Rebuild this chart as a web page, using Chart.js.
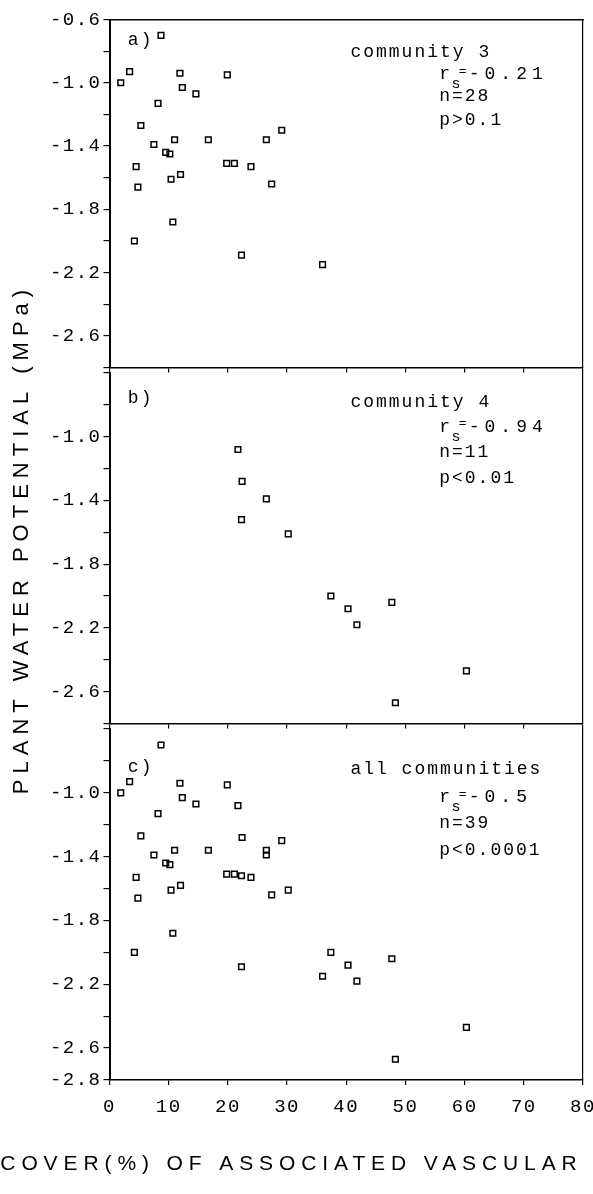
<!DOCTYPE html>
<html><head><meta charset="utf-8">
<script src="https://cdn.jsdelivr.net/npm/chart.js@4.4.1/dist/chart.umd.min.js"></script>
<style>
html,body{margin:0;padding:0;background:#fff;}
#wrap{position:relative;width:593px;height:1194px;overflow:hidden;background:#fff;}
canvas{position:absolute;left:0;top:0;}
</style></head><body>
<div id="wrap">
<canvas id="ca" width="593" height="1194"></canvas>
<canvas id="cb" width="593" height="1194"></canvas>
<canvas id="cc" width="593" height="1194"></canvas>
</div>
<script>
// ---- data (community 3) ----
const aX = [1.9, 3.4, 8.7, 8.2, 5.3, 7.5, 4.5, 4.8, 4.2, 9.5, 10.2, 11.0, 10.4, 12.0, 10.7, 11.9, 12.3, 14.6, 16.7, 19.9, 19.8, 21.1, 23.9, 22.3, 26.5, 29.1, 27.4, 36.0];
const aY = [-1.00, -0.93, -0.70, -1.13, -1.27, -1.39, -1.53, -1.66, -2.00, -1.44, -1.45, -1.36, -1.61, -1.58, -1.88, -0.94, -1.03, -1.07, -1.36, -0.95, -1.51, -1.51, -1.53, -2.09, -1.36, -1.30, -1.64, -2.15];
// ---- data (community 4) ----
const bX = [21.7, 22.4, 22.3, 26.5, 30.2, 37.4, 40.3, 41.8, 47.7, 60.3, 48.3];
const bY = [-1.08, -1.28, -1.52, -1.39, -1.61, -2.00, -2.08, -2.18, -2.04, -2.47, -2.67];
// ---- all communities ----
const allX = aX.concat(bX);
const allY = aY.concat(bY);

// ---- tick labels ----
const xTickLabels = ['0','10','20','30','40','50','60','70','80'];
const yLabelsA = ['-0.6','-1.0','-1.4','-1.8','-2.2','-2.6'];
const yLabelsB = ['-1.0','-1.4','-1.8','-2.2','-2.6'];
const yLabelsC = ['-1.0','-1.4','-1.8','-2.2','-2.6','-2.8'];

// ---- texts ----
const yTitle = 'PLANT WATER POTENTIAL (MPa)';
const xTitle = 'COVER(%) OF ASSOCIATED VASCULAR';
const panelTags = ['a)', 'b)', 'c)'];
const groupNames = ['community 3', 'community 4', 'all communities'];
const rsValues = ['-0.21', '-0.94', '-0.5'];
const nValues = ['n=28', 'n=11', 'n=39'];
const pValues = ['p>0.1', 'p<0.01', 'p<0.0001'];

Chart.defaults.color = '#000';
Chart.defaults.font.family = '"Liberation Mono", monospace';

const MONO = '"Liberation Mono", monospace';
const SANS = '"Liberation Sans", Arial, sans-serif';

function spacingPlugin(titleSp, tickSp) {
  return {
    id: 'spacing',
    beforeDraw(chart) { chart.ctx.letterSpacing = titleSp + 'px'; },
    beforeDatasetsDraw(chart) { chart.ctx.letterSpacing = tickSp + 'px'; }
  };
}

function notesPlugin(items) {
  return {
    id: 'notes',
    afterDraw(chart) {
      const ctx = chart.ctx, xs = chart.scales.x, ys = chart.scales.y;
      items.forEach(it => {
        ctx.save();
        ctx.letterSpacing = (it.sp === undefined ? 2 : it.sp) + 'px';
        ctx.font = (it.size || 18) + 'px ' + MONO;
        ctx.fillStyle = '#000';
        ctx.textAlign = 'left';
        ctx.textBaseline = 'alphabetic';
        ctx.fillText(it.text, xs.getPixelForValue(it.x), ys.getPixelForValue(it.y));
        ctx.restore();
      });
    }
  };
}

function notesFor(i, ys) {
  // ys: [tag, name, r, s, eq, n, p]
  return [
    {text: panelTags[i], x: 3.1, y: ys[0]},
    {text: groupNames[i], x: 40.7, y: ys[1]},
    {text: 'r', x: 55.7, y: ys[2]},
    {text: 's', x: 57.8, y: ys[3], size: 15},
    {text: '=', x: 59.0, y: ys[4], size: 13, sp: 0},
    {text: rsValues[i], x: 60.7, y: ys[2], sp: 5},
    {text: nValues[i], x: 55.7, y: ys[5]},
    {text: pValues[i], x: 55.7, y: ys[6]}
  ];
}

function yCallback(labels) {
  return (v) => { const s = Number(v).toFixed(1); return labels.includes(s) ? s : ''; };
}

function pts(xs, ys) { return xs.map((x, i) => ({x: x, y: ys[i]})); }

function dataset(xs, ys) {
  return {
    data: pts(xs, ys),
    pointStyle: 'rect',
    pointRadius: 4,
    pointHoverRadius: 4,
    pointBorderWidth: 1.5,
    pointBorderColor: '#000',
    pointBackgroundColor: 'rgba(0,0,0,0)',
    showLine: false
  };
}

function makeScales(opts) {
  const s = {
    x: {
      type: 'linear', position: 'bottom', min: 0, max: 80,
      ticks: {
        stepSize: 10, display: opts.xLabels, z: 1, maxRotation: 0, autoSkip: false,
        padding: 11, color: '#000', font: {family: MONO, size: 19},
        callback: (v) => { const k = Math.round(v / 10); return xTickLabels[k] !== undefined ? xTickLabels[k] : ''; }
      },
      grid: {drawOnChartArea: false, drawTicks: true, tickLength: 5, color: '#000', lineWidth: 1.2},
      border: {display: true, color: '#000', width: 1.6},
      afterFit: (sc) => { sc.height = opts.xH; sc.paddingLeft = 0; sc.paddingRight = 0; }
    },
    y: {
      type: 'linear', position: 'left', min: -2.8, max: -0.6,
      ticks: {
        stepSize: 0.2, autoSkip: false, z: 1, padding: 2, color: '#000',
        font: {family: MONO, size: 19}, callback: yCallback(opts.yLabels)
      },
      grid: {drawOnChartArea: false, drawTicks: true, tickLength: 6, color: '#000', lineWidth: 1.2},
      border: {display: true, color: '#000', width: 2},
      afterFit: (sc) => { sc.width = opts.yW; sc.paddingTop = 0; sc.paddingBottom = 0; }
    },
    yr: {
      type: 'linear', position: 'right', axis: 'y', min: -2.8, max: -0.6,
      ticks: {display: false}, grid: {display: false},
      border: {display: true, color: '#000', width: 1.2},
      afterFit: (sc) => { sc.width = 0; sc.paddingTop = 0; sc.paddingBottom = 0; }
    }
  };
  if (opts.top) {
    s.xt = {
      type: 'linear', position: 'top', axis: 'x', min: 0, max: 80,
      ticks: {display: false}, grid: {display: false},
      border: {display: true, color: '#000', width: 1.5},
      afterFit: (sc) => { sc.height = 0; sc.paddingLeft = 0; sc.paddingRight = 0; }
    };
  }
  return s;
}

const common = {
  responsive: false,
  animation: false,
  events: [],
  plugins: {legend: {display: false}, tooltip: {enabled: false}}
};

// ---- panel a ----
new Chart(document.getElementById('ca'), {
  type: 'scatter',
  data: {datasets: [dataset(aX, aY)]},
  options: Object.assign({}, common, {
    layout: {padding: {top: 19.5, right: 10, bottom: 135.5, left: 0}},
    scales: makeScales({xLabels: false, xH: 691, yW: 109.5 - 35.4, yLabels: yLabelsA, top: true}),
    plugins: {
      legend: {display: false}, tooltip: {enabled: false},
      title: {
        display: true, position: 'left', fullSize: true, align: 'center',
        text: yTitle, color: '#000',
        font: {family: SANS, size: 22, weight: 'normal', lineHeight: 1.2},
        padding: {top: 9, bottom: 0}
      }
    }
  }),
  plugins: [spacingPlugin(6, 1.5), notesPlugin(notesFor(0, [-0.76, -0.834, -0.976, -1.033, -0.951, -1.118, -1.267]))]
});

// ---- panel b ----
new Chart(document.getElementById('cb'), {
  type: 'scatter',
  data: {datasets: [dataset(bX, bY)]},
  options: Object.assign({}, common, {
    layout: {padding: {top: 373, right: 10, bottom: 1194 - 723.5 - 10, left: 0}},
    scales: makeScales({xLabels: false, xH: 10, yW: 109.5, yLabels: yLabelsB, top: false})
  }),
  plugins: [spacingPlugin(1.5, 1.5), notesPlugin(notesFor(1, [-0.786, -0.812, -0.968, -1.027, -0.942, -1.125, -1.289]))]
});

// ---- panel c ----
new Chart(document.getElementById('cc'), {
  type: 'scatter',
  data: {datasets: [dataset(allX, allY)]},
  options: Object.assign({}, common, {
    layout: {padding: {top: 729, right: 10, bottom: 17.4, left: 0}},
    scales: makeScales({xLabels: true, xH: 45, yW: 109.5, yLabels: yLabelsC, top: false}),
    plugins: {
      legend: {display: false}, tooltip: {enabled: false},
      title: {
        display: true, position: 'bottom', fullSize: true, align: 'center',
        text: xTitle, color: '#000',
        font: {family: SANS, size: 21, weight: 'normal', lineHeight: 1.2},
        padding: {top: 26.4, bottom: 0}
      }
    }
  }),
  plugins: [spacingPlugin(5.9, 1.5), notesPlugin(notesFor(2, [-0.868, -0.884, -1.06, -1.111, -1.033, -1.223, -1.39]))]
});
</script>
</body></html>
